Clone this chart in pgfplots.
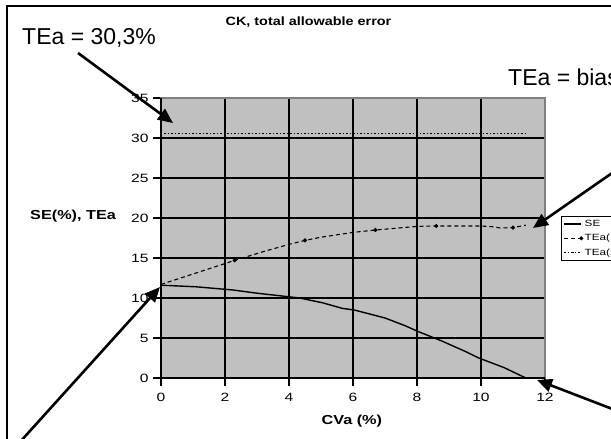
\documentclass[border=0pt]{standalone}
\usepackage{pgfplots}
\pgfplotsset{compat=1.18}
\usepackage{fontspec}
\setmainfont{Liberation Sans}
\usetikzlibrary{arrows.meta}
\definecolor{plotbg}{RGB}{192,192,192}
\definecolor{rimgray}{RGB}{128,128,128}

% SE curve, CVa (%) vs SE (%)
\pgfplotstableread{
x     y
0     11.6
1.1   11.4
2.25  11.0
3.0   10.6
4.0   10.15
4.33  10.0
5.05  9.4
5.67  8.7
6.04  8.5
7.0   7.5
7.65  6.5
8.04  5.8
8.79  4.6
9.52  3.3
9.93  2.5
10.72 1.3
11.4  0
}\sedata
% TEa(1)
\pgfplotstableread{
x     y
0     11.7
1.0   13.0
2.3   14.7
3.2   15.8
4.0   16.7
4.5   17.2
5.0   17.6
6.0   18.2
6.7   18.5
7.0   18.6
8.0   18.95
8.6   19.0
9.5   19.0
10.0  19.0
10.4  18.9
10.6  18.75
11.0  18.8
11.4  19.1
}\teaone
% TEa(2)
\pgfplotstableread{
x     y
0.1   30.6
11.4  30.6
}\teatwo

\begin{document}
\begin{tikzpicture}[x=1pt,y=1pt]
\clip (0,0) rectangle (611,439);
\fill[white] (0,0) rectangle (611,439);
\draw[line width=2pt] (7,-10) -- (7,433) -- (640,433);

\begin{axis}[
  at={(161pt,61pt)}, anchor=south west,
  scale only axis, width=384pt, height=280pt,
  xmin=0, xmax=12, ymin=0, ymax=35,
  xtick={0,2,...,12}, ytick={0,5,...,35},
  xtick pos=bottom, ytick pos=left,
  tick align=outside, major tick length=8pt,
  tick style={black, line width=2pt},
  axis background/.style={fill=plotbg},
  axis line style={rimgray, line width=2pt},
  xmajorgrids, ymajorgrids,
  grid style={black, line width=2pt},
  major grid style={black, line width=2pt},
  ticklabel style={font=\fontsize{12}{14}\selectfont},
  xticklabel={\scalebox{1.3}[1]{\pgfmathprintnumber[assume math mode=true]{\tick}}},
  yticklabel={\scalebox{1.3}[1]{\pgfmathprintnumber[assume math mode=true]{\tick}}},
  xticklabel style={yshift=-4pt},
  yticklabel style={xshift=-1pt},
  title={\scalebox{1.2}[1]{CK, total allowable error}},
  title style={font=\bfseries\fontsize{12}{14}\selectfont, at={(axis description cs:0.384,1.25)}, anchor=center},
  xlabel={\scalebox{1.25}[1]{CVa (\%)}},
  xlabel style={font=\bfseries\fontsize{13}{15}\selectfont, at={(axis description cs:0.497,-0.155)}, anchor=center},
  ylabel={\scalebox{1.25}[1]{SE(\%), TEa}},
  ylabel style={font=\bfseries\fontsize{13}{15}\selectfont, rotate=-90, at={(axis description cs:-0.229,0.577)}, anchor=center},
  legend style={at={(axis description cs:1.042,0.58)}, anchor=north west,
    font=\fontsize{9}{10}\selectfont, draw=black, line width=0.8pt, row sep=2.5pt, inner sep=2pt},
  legend cell align=left,
  clip=false,
]
\addplot[black, line width=1.4pt] table[x=x,y=y] {\sedata};
\addlegendentry{\scalebox{1.3}[1]{SE}}
\addplot[black, line width=1.1pt, dash pattern=on 4pt off 3pt, mark=*, mark size=1.4pt,
  mark options={solid}, mark indices={3,6,9,12,17}] table[x=x,y=y] {\teaone};
\addlegendentry{\scalebox{1.3}[1]{TEa(1)}}
\addplot[black, line width=0.9pt, dash pattern=on 2pt off 2pt on 1pt off 2pt] table[x=x,y=y] {\teatwo};
\addlegendentry{\scalebox{1.3}[1]{TEa(2)}}
\draw[black, line width=2pt] (rel axis cs:0,1) -- (rel axis cs:0,0) -- (rel axis cs:1,0);
\end{axis}

\node[anchor=base west, inner sep=0pt, font=\fontsize{23}{26}\selectfont] at (22,394) {TEa = 30,3\%};
\node[anchor=base west, inner sep=0pt, font=\fontsize{23}{26}\selectfont] at (508,353) {TEa = bias};

\begin{scope}[line width=2.6pt, -{Triangle[length=15pt,width=13pt]}]
\draw (78,386) -- (173,316);
\draw (615,268) -- (533,211);
\draw (20,-3) -- (160,152);
\draw (615,29) -- (537,59);
\end{scope}
\end{tikzpicture}
\end{document}
